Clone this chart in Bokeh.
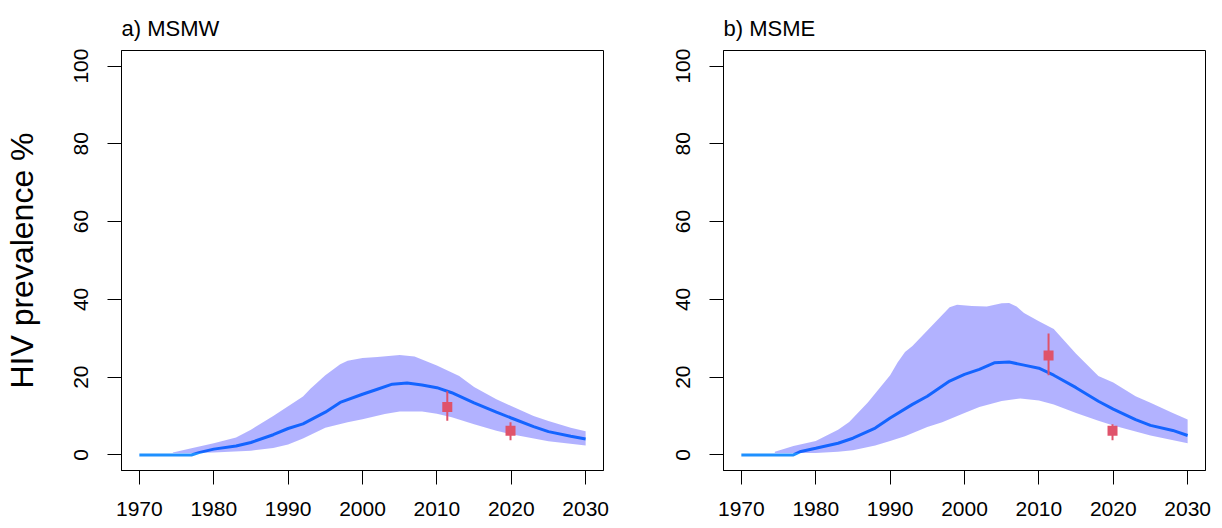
from bokeh.plotting import figure
from bokeh.layouts import row
from bokeh.models import Range1d, FixedTicker
from bokeh.embed import file_html
from bokeh.resources import INLINE

# ---------------- data ----------------
x_ticks = [1970, 1980, 1990, 2000, 2010, 2020, 2030]
y_ticks = [0, 20, 40, 60, 80, 100]

# panel a) MSMW
a_med_years = [1970, 1977, 1978, 1980, 1983, 1985, 1988, 1990, 1992, 1995, 1997, 2000,
               2002, 2004, 2006, 2008, 2010, 2012, 2015, 2018, 2020, 2023, 2025, 2028, 2030]
a_med = [0, 0, 0.6, 1.5, 2.3, 3.2, 5.2, 6.8, 8.0, 11.0, 13.5, 15.6,
         16.9, 18.2, 18.5, 18.0, 17.3, 16.0, 13.4, 11.0, 9.5, 7.3, 6.0, 4.8, 4.1]
a_up_years = [1974.5, 1977, 1980, 1983, 1985, 1988, 1990, 1992, 1993, 1995, 1997, 1998,
              2000, 2002, 2005, 2007, 2010, 2013, 2015, 2018, 2020, 2023, 2025, 2028, 2030]
a_up = [0.6, 1.7, 3.0, 4.5, 6.5, 10.0, 12.5, 15.0, 17.0, 20.5, 23.3, 24.2,
        24.9, 25.2, 25.7, 25.3, 23.0, 20.3, 17.5, 14.3, 12.6, 10.0, 8.7, 7.0, 6.1]
a_lo_years = [1974.5, 1977, 1980, 1985, 1988, 1990, 1992, 1995, 1998, 2000, 2003, 2005,
              2008, 2010, 2012, 2015, 2018, 2020, 2025, 2030]
a_lo = [0.5, 0.5, 0.6, 1.1, 1.8, 2.7, 4.2, 7.0, 8.4, 9.2, 10.5, 11.2,
        11.2, 10.6, 9.7, 7.9, 6.2, 5.3, 3.5, 2.4]
a_obs_years = [2011.4, 2019.9]
a_obs = [12.3, 6.2]
a_obs_lo = [8.8, 3.8]
a_obs_hi = [16.4, 8.4]

# panel b) MSME
b_med_years = [1970, 1977, 1978, 1980, 1983, 1985, 1988, 1990, 1993, 1995, 1998, 2000,
               2002, 2004, 2006, 2008, 2010, 2012, 2015, 2018, 2020, 2023, 2025, 2028, 2030]
b_med = [0, 0, 0.9, 1.7, 3.0, 4.3, 6.9, 9.5, 13.0, 15.1, 19.0, 20.7,
         22.0, 23.7, 23.9, 23.1, 22.3, 20.5, 17.3, 13.8, 11.8, 9.1, 7.6, 6.3, 5.0]
b_up_years = [1974.5, 1977, 1980, 1983, 1984.5, 1987, 1990, 1991, 1992, 1993, 1995, 1997,
              1998, 1999, 2001, 2003, 2005, 2006, 2007, 2008, 2010, 2012, 2015, 2018,
              2020, 2023, 2025, 2028, 2030]
b_up = [0.8, 2.3, 3.6, 6.5, 8.5, 13.5, 20.5, 23.8, 26.5, 28.0, 32.0, 36.0,
        38.0, 38.6, 38.3, 38.2, 39.0, 39.1, 38.2, 36.5, 34.4, 32.4, 26.0, 20.3,
        18.6, 15.1, 13.4, 10.8, 9.1]
b_lo_years = [1974.5, 1977, 1980, 1983, 1985, 1988, 1990, 1992, 1995, 1997, 2000, 2002,
              2005, 2007.5, 2010, 2012, 2015, 2018, 2020, 2025, 2030]
b_lo = [0.5, 0.5, 0.5, 0.8, 1.2, 2.4, 3.6, 4.8, 7.2, 8.4, 10.8, 12.3,
        13.9, 14.5, 14.0, 13.0, 10.8, 8.8, 7.6, 5.0, 3.0]
b_obs_years = [2011.3, 2019.9]
b_obs = [25.6, 6.2]
b_obs_lo = [20.5, 3.8]
b_obs_hi = [31.2, 7.9]

FONT = "Liberation Sans"
LINE_COL = "#1E90FF"
BAND_COL = "#0000FF"
OBS_COL = "#DF536B"


def panel(title, med_years, med, up_years, up, lo_years, lo,
          obs_years, obs, obs_lo, obs_hi, width, border_left, border_right, ylabel):
    p = figure(width=width, height=526, output_backend="svg", toolbar_location=None,
               x_range=Range1d(1967.6, 2032.4), y_range=Range1d(-4, 104),
               min_border_left=border_left, min_border_right=border_right,
               min_border_top=50, min_border_bottom=56,
               title=title)
    p.title.text_font = FONT
    p.title.text_font_size = "22px"
    p.title.text_font_style = "normal"
    p.title.text_color = "black"
    p.title.align = "left"
    p.title.standoff = 20

    p.grid.visible = False
    p.outline_line_color = "black"
    p.outline_line_width = 1
    p.background_fill_color = "white"
    p.border_fill_color = "white"

    for ax in (p.xaxis[0], p.yaxis[0]):
        ax.major_label_text_font = FONT
        ax.major_label_text_font_size = "21px"
        ax.major_label_text_color = "black"
        ax.major_tick_out = 14
        ax.major_tick_in = 0
        ax.minor_tick_out = 0
        ax.minor_tick_in = 0
        ax.major_tick_line_color = "black"
        ax.axis_line_color = "black"
    p.xaxis[0].ticker = FixedTicker(ticks=x_ticks)
    p.yaxis[0].ticker = FixedTicker(ticks=y_ticks)
    p.xaxis[0].major_label_standoff = 17
    p.yaxis[0].major_label_standoff = 19
    p.yaxis[0].major_label_orientation = "vertical"
    if ylabel:
        p.yaxis[0].axis_label = ylabel
        p.yaxis[0].axis_label_text_font = FONT
        p.yaxis[0].axis_label_text_font_size = "32px"
        p.yaxis[0].axis_label_text_font_style = "normal"
        p.yaxis[0].axis_label_text_color = "black"
        p.yaxis[0].axis_label_standoff = 32

    # model line first, then translucent band over it (as in the original)
    p.line(med_years, med, line_color=LINE_COL, line_width=3)
    p.patch(up_years + lo_years[::-1], up + lo[::-1],
            fill_color=BAND_COL, fill_alpha=0.3, line_color=None)
    # observations
    p.segment(x0=obs_years, y0=obs_lo, x1=obs_years, y1=obs_hi,
              line_color=OBS_COL, line_width=2)
    p.scatter(obs_years, obs, marker="square", size=10,
              fill_color=OBS_COL, line_color=None)
    return p


pa = panel("a) MSMW", a_med_years, a_med, a_up_years, a_up, a_lo_years, a_lo,
           a_obs_years, a_obs, a_obs_lo, a_obs_hi, 613, 121, 10, "HIV prevalence %")
pb = panel("b) MSME", b_med_years, b_med, b_up_years, b_up, b_lo_years, b_lo,
           b_obs_years, b_obs, b_obs_lo, b_obs_hi, 607, 110, 15, None)

layout = row(pa, pb)
open("out.html", "w").write(file_html(layout, INLINE))
